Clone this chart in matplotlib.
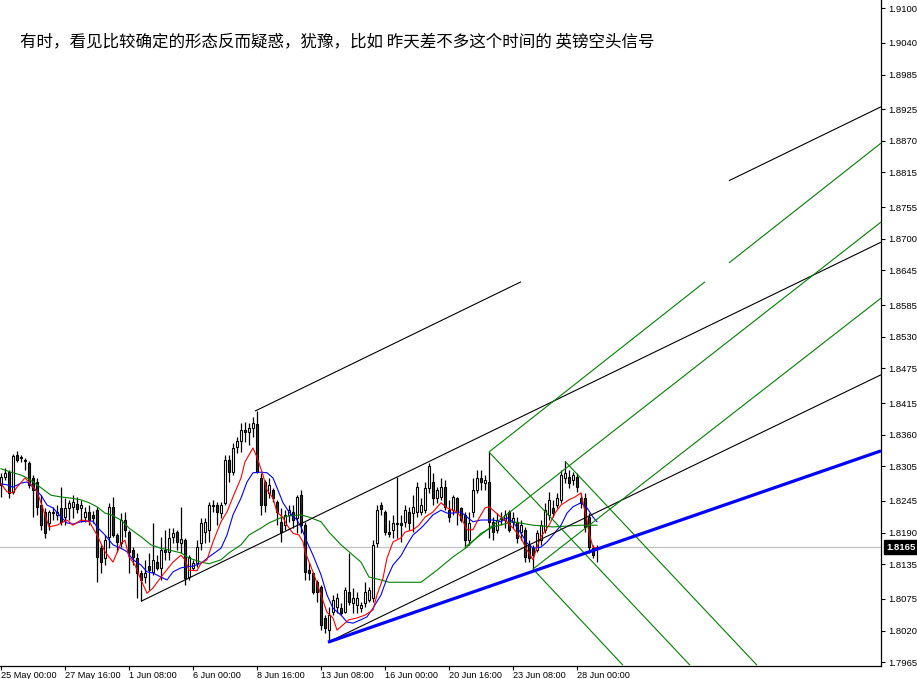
import matplotlib
matplotlib.use("Agg")
import matplotlib.pyplot as plt
import matplotlib.transforms as mtransforms
import numpy as np

# ---- 4H candles, bar 0 = 25 May 00:00 ----
opens = [1.8273, 1.8287, 1.8295, 1.8261, 1.8325, 1.8321, 1.8316, 1.8311, 1.8285, 1.8278,
         1.8238, 1.8226, 1.8207, 1.8226, 1.8221, 1.8233, 1.8217, 1.8233, 1.8235, 1.8240,
         1.8233, 1.8217, 1.8226, 1.8221, 1.8229, 1.8163, 1.8146, 1.8183, 1.8235, 1.8186,
         1.8172, 1.8212, 1.8191, 1.8160, 1.8146, 1.8120, 1.8113, 1.8132, 1.8122, 1.8139,
         1.8129, 1.8160, 1.8157, 1.8183, 1.8191, 1.8172, 1.8177, 1.8113, 1.8129, 1.8137,
         1.8172, 1.8191, 1.8195, 1.8238, 1.8238, 1.8224, 1.8242, 1.8316, 1.8295, 1.8339,
         1.8349, 1.8368, 1.8365, 1.8372, 1.8379, 1.8285, 1.8278, 1.8259, 1.8264, 1.8243,
         1.8209, 1.8203, 1.8221, 1.8226, 1.8216, 1.8255, 1.8203, 1.8125, 1.8120, 1.8104,
         1.8096, 1.8042, 1.8021, 1.8052, 1.8061, 1.8059, 1.8052, 1.8087, 1.8068, 1.8065,
         1.8059, 1.8068, 1.8073, 1.8077, 1.8172, 1.8238, 1.8226, 1.8191, 1.8195, 1.8207,
         1.8207, 1.8209, 1.8226, 1.8224, 1.8226, 1.8226, 1.8229, 1.8268, 1.8278, 1.8250,
         1.8252, 1.8269, 1.8229, 1.8229, 1.8250, 1.8233, 1.8221, 1.8177, 1.8226, 1.8264,
         1.8285, 1.8276, 1.8278, 1.8209, 1.8195, 1.8216, 1.8212, 1.8226, 1.8209, 1.8209,
         1.8191, 1.8195, 1.8169, 1.8163, 1.8160, 1.8177, 1.8195, 1.8221, 1.8233, 1.8238,
         1.8247, 1.8285, 1.8287, 1.8281, 1.8287, 1.8250, 1.8250, 1.8217, 1.8163, 1.8162]
highs = [1.8294, 1.8302, 1.8299, 1.8327, 1.8332, 1.8325, 1.8320, 1.8314, 1.8290, 1.8285,
         1.8255, 1.8233, 1.8229, 1.8235, 1.8238, 1.8269, 1.8250, 1.8247, 1.8255, 1.8252,
         1.8247, 1.8235, 1.8238, 1.8228, 1.8235, 1.8169, 1.8186, 1.8242, 1.8252, 1.8189,
         1.8224, 1.8226, 1.8195, 1.8165, 1.8155, 1.8125, 1.8143, 1.8155, 1.8207, 1.8151,
         1.8183, 1.8195, 1.8198, 1.8198, 1.8195, 1.8235, 1.8181, 1.8151, 1.8143, 1.8177,
         1.8216, 1.8216, 1.8243, 1.8247, 1.8243, 1.8243, 1.8325, 1.8325, 1.8346, 1.8356,
         1.8380, 1.8382, 1.8380, 1.8391, 1.8401, 1.8294, 1.8281, 1.8285, 1.8268, 1.8247,
         1.8233, 1.8229, 1.8238, 1.8238, 1.8255, 1.8264, 1.8209, 1.8139, 1.8122, 1.8108,
         1.8099, 1.8047, 1.8061, 1.8082, 1.8085, 1.8068, 1.8096, 1.8155, 1.8094, 1.8087,
         1.8070, 1.8104, 1.8096, 1.8177, 1.8238, 1.8243, 1.8229, 1.8212, 1.8221, 1.8287,
         1.8221, 1.8238, 1.8235, 1.8255, 1.8278, 1.8250, 1.8278, 1.8311, 1.8294, 1.8269,
         1.8285, 1.8281, 1.8247, 1.8255, 1.8252, 1.8235, 1.8226, 1.8226, 1.8285, 1.8299,
         1.8299, 1.8290, 1.8330, 1.8217, 1.8224, 1.8226, 1.8229, 1.8229, 1.8226, 1.8217,
         1.8212, 1.8200, 1.8177, 1.8169, 1.8195, 1.8212, 1.8242, 1.8261, 1.8247, 1.8259,
         1.8299, 1.8314, 1.8299, 1.8295, 1.8294, 1.8259, 1.8259, 1.8224, 1.8169, 1.8169]
lows = [1.8252, 1.8281, 1.8250, 1.8257, 1.8313, 1.8313, 1.8299, 1.8268, 1.8217, 1.8221,
        1.8195, 1.8181, 1.8195, 1.8212, 1.8212, 1.8203, 1.8203, 1.8212, 1.8216, 1.8224,
        1.8209, 1.8209, 1.8203, 1.8207, 1.8104, 1.8120, 1.8134, 1.8163, 1.8183, 1.8157,
        1.8165, 1.8183, 1.8120, 1.8134, 1.8077, 1.8071, 1.8103, 1.8091, 1.8117, 1.8125,
        1.8108, 1.8143, 1.8143, 1.8172, 1.8160, 1.8155, 1.8099, 1.8108, 1.8125, 1.8131,
        1.8160, 1.8172, 1.8174, 1.8226, 1.8203, 1.8216, 1.8238, 1.8278, 1.8290, 1.8328,
        1.8330, 1.8347, 1.8342, 1.8356, 1.8294, 1.8221, 1.8226, 1.8250, 1.8243, 1.8203,
        1.8174, 1.8195, 1.8209, 1.8198, 1.8189, 1.8189, 1.8108, 1.8108, 1.8084, 1.8070,
        1.8021, 1.8016, 1.8002, 1.8047, 1.8051, 1.8047, 1.8051, 1.8065, 1.8051, 1.8051,
        1.8052, 1.8061, 1.8070, 1.8070, 1.8165, 1.8221, 1.8186, 1.8183, 1.8181, 1.8181,
        1.8174, 1.8200, 1.8195, 1.8191, 1.8217, 1.8221, 1.8224, 1.8259, 1.8238, 1.8242,
        1.8247, 1.8229, 1.8209, 1.8221, 1.8203, 1.8209, 1.8165, 1.8169, 1.8217, 1.8259,
        1.8264, 1.8264, 1.8181, 1.8177, 1.8189, 1.8203, 1.8198, 1.8191, 1.8198, 1.8172,
        1.8177, 1.8139, 1.8139, 1.8127, 1.8157, 1.8169, 1.8189, 1.8212, 1.8217, 1.8233,
        1.8242, 1.8276, 1.8268, 1.8273, 1.8261, 1.8233, 1.8191, 1.8155, 1.8146, 1.8139]
closes = [1.8287, 1.8294, 1.8259, 1.8323, 1.8316, 1.8320, 1.8314, 1.8273, 1.8264, 1.8235,
          1.8203, 1.8189, 1.8226, 1.8224, 1.8226, 1.8209, 1.8233, 1.8242, 1.8243, 1.8231,
          1.8238, 1.8226, 1.8212, 1.8216, 1.8148, 1.8139, 1.8177, 1.8235, 1.8186, 1.8174,
          1.8212, 1.8195, 1.8157, 1.8148, 1.8120, 1.8108, 1.8120, 1.8125, 1.8143, 1.8129,
          1.8160, 1.8157, 1.8181, 1.8189, 1.8174, 1.8179, 1.8111, 1.8148, 1.8137, 1.8165,
          1.8207, 1.8209, 1.8238, 1.8236, 1.8226, 1.8238, 1.8316, 1.8295, 1.8337, 1.8349,
          1.8368, 1.8365, 1.8372, 1.8380, 1.8295, 1.8238, 1.8238, 1.8273, 1.8250, 1.8226,
          1.8191, 1.8221, 1.8229, 1.8212, 1.8252, 1.8203, 1.8122, 1.8120, 1.8087, 1.8087,
          1.8030, 1.8025, 1.8047, 1.8073, 1.8077, 1.8051, 1.8091, 1.8070, 1.8077, 1.8077,
          1.8065, 1.8087, 1.8091, 1.8169, 1.8229, 1.8231, 1.8191, 1.8188, 1.8207, 1.8205,
          1.8203, 1.8229, 1.8207, 1.8235, 1.8269, 1.8238, 1.8268, 1.8306, 1.8250, 1.8264,
          1.8269, 1.8235, 1.8217, 1.8252, 1.8226, 1.8212, 1.8177, 1.8207, 1.8264, 1.8285,
          1.8278, 1.8281, 1.8209, 1.8191, 1.8212, 1.8214, 1.8221, 1.8195, 1.8216, 1.8181,
          1.8203, 1.8148, 1.8146, 1.8151, 1.8189, 1.8203, 1.8229, 1.8247, 1.8224, 1.8250,
          1.8290, 1.8294, 1.8276, 1.8290, 1.8269, 1.8242, 1.8200, 1.8165, 1.8151, 1.8165]

# moving averages (bar index, price)
red_bars = [0, 1.5, 3, 4, 6, 7, 9, 10, 12, 14, 16.5, 18, 20, 22, 24, 26, 28, 30, 31, 32,
            33.5, 35, 36.5, 38, 40, 43, 45, 46, 47, 49, 50, 51.5, 53, 55, 56.5, 58, 60, 61, 63, 64,
            65.5, 66.5, 68, 69, 70.5, 71.5, 73, 74.5, 75.5, 76, 78, 80, 81.5, 83, 84, 85.5, 87, 89, 91, 93,
            94, 95.5, 96.5, 98, 100, 101, 103, 104.5, 106, 108, 110, 111.5, 113, 114, 115, 116.5, 118, 119, 121, 122,
            123, 125, 126.5, 128, 130, 131.5, 133, 134, 135, 137, 138.5, 140, 142, 143.5, 145, 145.5, 146.5, 147, 148, 149]
red_vals = [1.8275, 1.8261, 1.8259, 1.8269, 1.8285, 1.8278, 1.8261, 1.8242, 1.8200, 1.8203,
            1.8212, 1.8203, 1.8212, 1.8210, 1.8186, 1.8157, 1.8139, 1.8172, 1.8177, 1.8148,
            1.8134, 1.8108, 1.8085, 1.8094, 1.8113, 1.8139, 1.8151, 1.8143, 1.8125, 1.8124,
            1.8137, 1.8143, 1.8174, 1.8209, 1.8226, 1.8252, 1.8285, 1.8313, 1.8337, 1.8321,
            1.8290, 1.8264, 1.8250, 1.8226, 1.8216, 1.8203, 1.8189, 1.8186, 1.8174, 1.8157,
            1.8122, 1.8082, 1.8052, 1.8042, 1.8021, 1.8030, 1.8039, 1.8042, 1.8047, 1.8056,
            1.8082, 1.8111, 1.8146, 1.8174, 1.8181, 1.8191, 1.8195, 1.8203, 1.8217, 1.8226,
            1.8242, 1.8233, 1.8229, 1.8226, 1.8217, 1.8195, 1.8195, 1.8209, 1.8233, 1.8235,
            1.8229, 1.8217, 1.8209, 1.8198, 1.8181, 1.8160, 1.8143, 1.8165, 1.8183, 1.8203,
            1.8224, 1.8238, 1.8247, 1.8252, 1.8259, 1.8242, 1.8212, 1.8189, 1.8165, 1.8163]
blue_bars = [0, 1.5, 3, 5, 6.5, 8, 10, 11.5, 13, 15, 16.5, 18, 20, 21.5, 23, 24, 26, 28, 30, 31.5,
             33, 35, 36.5, 38, 40, 41.5, 43, 45, 46.5, 48, 50, 52, 55, 56.5, 58, 60, 61.5, 63, 65, 66.5,
             68, 69, 70.5, 72, 74, 75, 76.5, 78, 80, 81.5, 83, 85, 86.5, 88, 90, 91.5, 93, 95, 96.5, 98,
             100, 101.5, 103, 105, 106.5, 108, 110, 111.5, 113, 115, 116.5, 118, 120, 121.5, 123, 125,
             126.5, 128, 130, 131.5, 133, 135, 136.5, 138, 140, 141.5, 143, 145, 146.5, 148, 149]
blue_vals = [1.8275, 1.8273, 1.8269, 1.8276, 1.8278, 1.8269, 1.8255, 1.8238, 1.8233, 1.8217,
             1.8207, 1.8205, 1.8209, 1.8210, 1.8210, 1.8200, 1.8186, 1.8169, 1.8163, 1.8157,
             1.8143, 1.8134, 1.8122, 1.8120, 1.8113, 1.8108, 1.8122, 1.8129, 1.8131, 1.8132,
             1.8137, 1.8148, 1.8163, 1.8186, 1.8221, 1.8250, 1.8278, 1.8294, 1.8295, 1.8294,
             1.8285, 1.8268, 1.8242, 1.8226, 1.8212, 1.8200, 1.8174, 1.8151, 1.8117, 1.8082,
             1.8059, 1.8047, 1.8035, 1.8033, 1.8039, 1.8044, 1.8059, 1.8082, 1.8111, 1.8134,
             1.8150, 1.8169, 1.8186, 1.8198, 1.8209, 1.8221, 1.8229, 1.8224, 1.8224, 1.8226,
             1.8217, 1.8209, 1.8212, 1.8212, 1.8212, 1.8209, 1.8216, 1.8209, 1.8189, 1.8172,
             1.8163, 1.8165, 1.8174, 1.8186, 1.8203, 1.8224, 1.8235, 1.8242, 1.8233, 1.8217, 1.8209]
green_bars = [0, 2.5, 5, 6.5, 8, 10, 12.5, 15, 17.5, 20, 22, 24, 26, 27.5, 30, 32, 35, 37.5, 40, 42,
              45, 47, 50, 52, 55, 57, 60, 62, 65, 67, 70, 72, 75, 77, 80, 82, 85, 87, 90, 92,
              95, 97, 100, 102, 105, 109, 113, 116.5, 120, 123, 128, 133, 138, 145, 149]
green_vals = [1.8301, 1.8295, 1.8290, 1.8285, 1.8278, 1.8268, 1.8255, 1.8252, 1.8250, 1.8247,
              1.8242, 1.8235, 1.8224, 1.8221, 1.8212, 1.8198, 1.8183, 1.8169, 1.8163, 1.8160,
              1.8155, 1.8146, 1.8139, 1.8136, 1.8143, 1.8155, 1.8169, 1.8186, 1.8198, 1.8207,
              1.8216, 1.8219, 1.8221, 1.8217, 1.8209, 1.8191, 1.8169, 1.8157, 1.8139, 1.8113,
              1.8108, 1.8104, 1.8104, 1.8104, 1.8104, 1.8125, 1.8148, 1.8165, 1.8189, 1.8200,
              1.8209, 1.8203, 1.8200, 1.8203, 1.8203]

# trend lines: two anchor points (bar, price)
line_c = [(35, 1.8071), (220, 1.8694)]
line_b = [(63.5, 1.8401), (220, 1.8929)]
line_d = [(81.75, 1.8000), (220, 1.8464)]
line_blue = [(81.75, 1.8000), (220, 1.8332)]
green_up1 = [(122, 1.8330), (220, 1.8866)]
green_up2 = [(133, 1.8127), (220, 1.8597)]
green_up3 = [(116, 1.8165), (220, 1.8729)]
green_dn1 = [(122, 1.8330), (172.25, 1.7960)]
green_dn2 = [(141, 1.8314), (189, 1.7960)]
green_dn3 = [(133, 1.8127), (155.5, 1.7960)]

xticks = [0, 16, 32, 48, 64, 80, 96, 112, 128, 144]
xlabels = ["25 May 00:00", "27 May 16:00", "1 Jun 08:00", "6 Jun 00:00", "8 Jun 16:00",
           "13 Jun 08:00", "16 Jun 00:00", "20 Jun 16:00", "23 Jun 08:00", "28 Jun 00:00"]
yticks = [1.9100, 1.9040, 1.8985, 1.8925, 1.8870, 1.8815, 1.8755, 1.8700, 1.8645, 1.8585,
          1.8530, 1.8475, 1.8415, 1.8360, 1.8305, 1.8245, 1.8190, 1.8135, 1.8075, 1.8020, 1.7965]
title = "有时，看见比较确定的形态反而疑惑，犹豫，比如 昨天差不多这个时间的 英镑空头信号"

plt.rcParams['font.family'] = ['Liberation Sans', 'DejaVu Sans']

fig = plt.figure(figsize=(9.17, 6.79), dpi=100)
ax = fig.add_axes([0, 13 / 679, 881 / 917, 666 / 679])
ax.set_xlim(-0.25, 220)
ax.set_ylim(1.79587, 1.91143)

o = np.array(opens); h = np.array(highs); l = np.array(lows); c = np.array(closes)
x = np.arange(len(o))
up = c >= o

ax.axhline(closes[-1], color='#c0c0c0', lw=0.9, zorder=1)
ax.vlines(x, l, h, color='black', lw=0.9, zorder=2)
ax.bar(x[up], np.maximum(c - o, 0.00005)[up], bottom=o[up], width=0.6,
       color='white', edgecolor='black', lw=0.8, zorder=3)
ax.bar(x[~up], np.maximum(o - c, 0.00005)[~up], bottom=c[~up], width=0.6,
       color='#333333', edgecolor='black', lw=0.8, zorder=3)

ax.plot(green_bars, green_vals, color='#008000', lw=0.8, zorder=4)
ax.plot(blue_bars, blue_vals, color='#0000ff', lw=0.8, zorder=4)
ax.plot(red_bars, red_vals, color='#ff0000', lw=0.8, zorder=4)


def seg(line, b0, b1, **kw):
    (xa, ya), (xb, yb) = line
    k = (yb - ya) / (xb - xa)
    ax.plot([b0, b1], [ya + k * (b0 - xa), ya + k * (b1 - xa)], zorder=5, **kw)


thin = dict(lw=0.8, solid_capstyle='butt')
seg(line_c, 35, 220, color='black', **thin)
seg(line_b, 63.5, 130, color='black', **thin)
seg(line_b, 182, 220, color='black', **thin)
seg(line_d, 81.75, 220, color='black', **thin)
seg(green_up1, 122, 176, color='#008000', **thin)
seg(green_up1, 182, 220, color='#008000', **thin)
seg(green_up2, 133, 220, color='#008000', **thin)
seg(green_up3, 116, 220, color='#008000', **thin)
seg(green_dn1, 122, 172.25, color='#008000', **thin)
seg(green_dn2, 141, 189, color='#008000', **thin)
seg(green_dn3, 133, 155.5, color='#008000', **thin)
seg(line_blue, 81.75, 220, color='#0000ff', lw=2.3, solid_capstyle='butt')

for s in ['top', 'left']:
    ax.spines[s].set_visible(False)
for s in ['right', 'bottom']:
    ax.spines[s].set_color('black')
    ax.spines[s].set_linewidth(0.9)

ax.yaxis.tick_right()
ax.set_yticks(yticks)
ax.set_yticklabels([f"{v:.4f}" for v in yticks])
ax.tick_params(axis='y', direction='out', length=3, width=0.8, pad=2, labelsize=6.8)
ax.set_xticks(xticks)
ax.set_xticklabels(xlabels, ha='left')
ax.tick_params(axis='x', direction='out', length=3, width=0.8, pad=0.5, labelsize=6.6)

trans = mtransforms.blended_transform_factory(ax.transAxes, ax.transData)
ax.text(1.006, closes[-1], f"{closes[-1]:.4f}", transform=trans, ha='left', va='center',
        color='white', fontsize=6.8, fontweight='bold', clip_on=False, zorder=6,
        bbox=dict(boxstyle='square,pad=0.25', fc='black', ec='black'))

fig.text(20 / 917, 1 - 43 / 679, title, fontsize=11.9, ha='left', va='center',
         family=['Noto Sans CJK SC', 'DejaVu Sans'])

fig.savefig("out.png", dpi=100)
